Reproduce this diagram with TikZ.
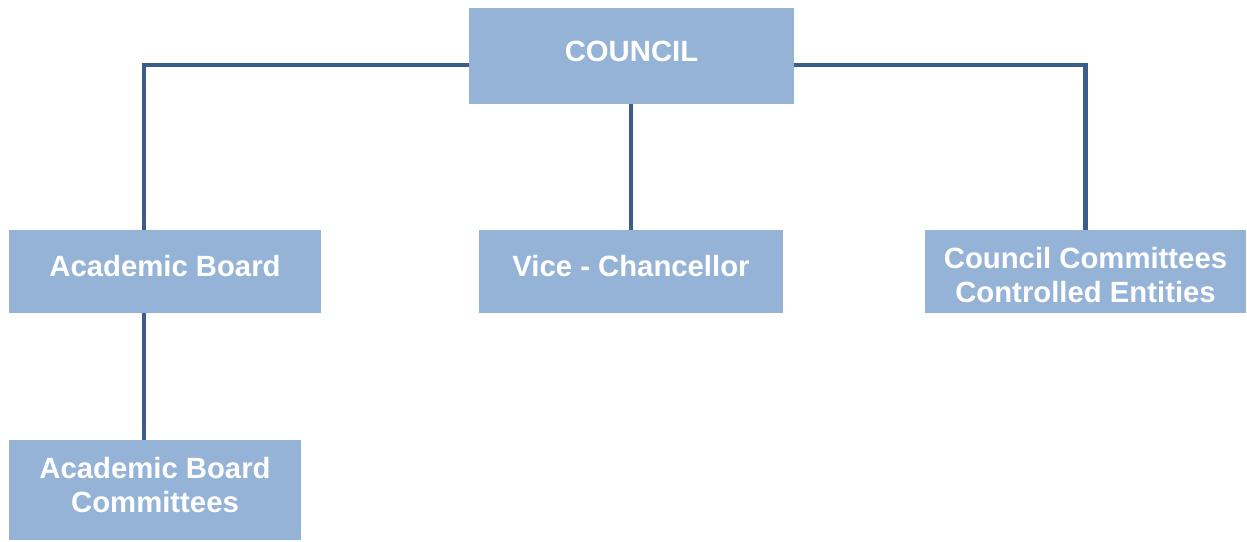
\documentclass[tikz,border=0pt]{standalone}
\usepackage{fontspec}
\setmainfont{Liberation Sans}
\definecolor{boxfill}{HTML}{95B3D7}
\definecolor{linecol}{HTML}{3B5D8C}
\newcommand\lifttext[2]{\raisebox{#1}[\height][\depth]{\begin{tabular}{@{}c@{}}#2\end{tabular}}}
\begin{document}
\begin{tikzpicture}[x=1pt,y=-1pt,
  orgbox/.style={fill=boxfill, draw=none, inner sep=0pt, align=center, text=white,
    font=\fontsize{29.3}{33.8}\selectfont\bfseries},
  conn/.style={draw=linecol, line width=4.5pt}]
\useasboundingbox (0,0) rectangle (1247,541);
\node[orgbox, minimum width=325pt, minimum height=96pt] (council) at (631.5,55.8) {\lifttext{1pt}{COUNCIL}};
\node[orgbox, minimum width=312pt, minimum height=83pt] (ab) at (165,271.5) {\lifttext{2pt}{Academic Board}};
\node[orgbox, minimum width=304pt, minimum height=83pt] (vc) at (631,271.5) {\lifttext{2pt}{Vice - Chancellor}};
\node[orgbox, minimum width=321pt, minimum height=83pt] (cc) at (1085.5,271.5) {\lifttext{-7pt}{Council Committees\\Controlled Entities}};
\node[orgbox, minimum width=292pt, minimum height=100pt] (abc) at (155,490) {\lifttext{1pt}{Academic Board\\Committees}};
\draw[conn] ([yshift=-9.2pt]council.west) -| ([xshift=-21pt]ab.north);
\draw[conn] ([yshift=-9.2pt]council.east) -| (cc.north);
\draw[conn] (vc.north |- council.south) -- (vc.north);
\draw[conn] ([xshift=-21pt]ab.south) -- ([xshift=-21pt]ab.south |- abc.north);
\end{tikzpicture}
\end{document}
